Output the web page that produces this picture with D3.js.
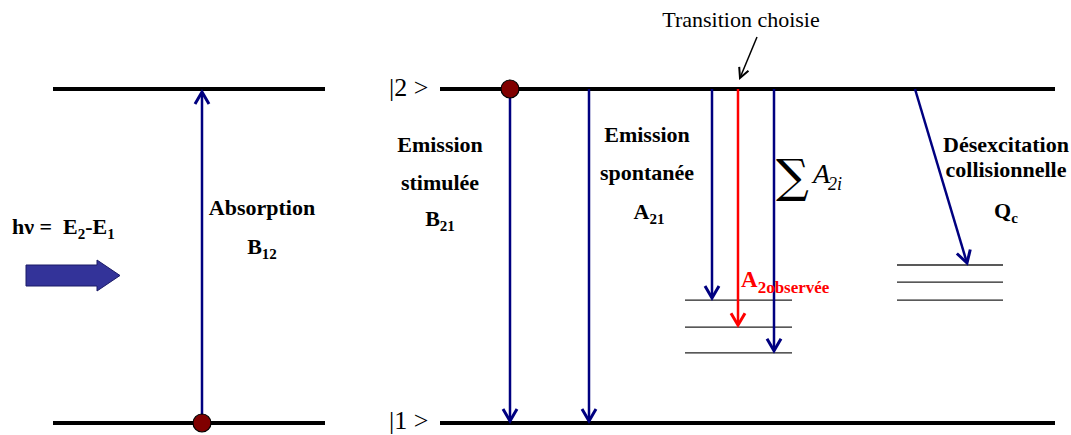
<!DOCTYPE html>
<html><head><meta charset="utf-8">
<script src="https://cdn.jsdelivr.net/npm/d3@7"></script>
<style>html,body{margin:0;padding:0;background:#fff;}svg{display:block;}</style>
</head><body><svg id="c" width="1071" height="435"></svg>
<script>
// ---- data ----
const mainLevels = [            // energy (0 = |1>, 1 = |2>)
  {name: "E1", E: 0},
  {name: "E2", E: 1}
];
const levelSpansLeft = [53, 325];
const levelSpansRight = [440, 1055];
const subLevelsA = [0.368, 0.287, 0.21];   // sub-levels reached by spontaneous decays
const subLevelsQ = [0.473, 0.422, 0.368];  // sub-levels reached by collisions
const subSpanA = [685, 792];
const subSpanQ = [897, 1003];
const transitions = [
  {x0: 202, x1: 202, E0: 0, E1: 1, color: "#000080"},         // absorption
  {x0: 510, x1: 510, E0: 1, E1: 0, color: "#000080"},         // stimulated
  {x0: 589, x1: 589, E0: 1, E1: 0, color: "#000080"},         // spontaneous
  {x0: 712, x1: 712, E0: 1, E1: 0.368, color: "#000080"},
  {x0: 738, x1: 738, E0: 1, E1: 0.287, color: "#ff0000"},
  {x0: 774, x1: 774, E0: 1, E1: 0.21, color: "#000080"},
  {x0: 915, x1: 967, E0: 1, E1: 0.473, color: "#000080"}      // collisional
];
const populations = [{x: 202, E: 0}, {x: 510, E: 1}];
const labelsBold = [
  {x: 262, y: 215, t: "Absorption"},
  {x: 440, y: 152, t: "Emission"},
  {x: 440, y: 190, t: "stimulée"},
  {x: 647, y: 142, t: "Emission"},
  {x: 647, y: 180, t: "spontanée"},
  {x: 1006, y: 152, t: "Désexcitation"},
  {x: 1006, y: 177, t: "collisionnelle"}
];
const labelsSub = [
  {x: 262, y: 254, t: "B", s: "12"},
  {x: 440, y: 226, t: "B", s: "21"},
  {x: 649, y: 219, t: "A", s: "21"},
  {x: 1006, y: 218, t: "Q", s: "c"}
];

// ---- scales ----
const svg = d3.select("#c");
const x = d3.scaleLinear().domain([0, 1071]).range([0, 1071]);
const y = d3.scaleLinear().domain([0, 1]).range([423, 89]);

const serif = "'Liberation Serif','Times New Roman',serif";

// main levels
[levelSpansLeft, levelSpansRight].forEach(span => {
  svg.append("g").selectAll("line").data(mainLevels).join("line")
    .attr("x1", x(span[0])).attr("x2", x(span[1]))
    .attr("y1", d => y(d.E)).attr("y2", d => y(d.E))
    .attr("stroke", "#000").attr("stroke-width", 4);
});
// sub-levels
[[subLevelsA, subSpanA], [subLevelsQ, subSpanQ]].forEach(([lv, span]) => {
  svg.append("g").selectAll("line").data(lv).join("line")
    .attr("x1", x(span[0])).attr("x2", x(span[1]))
    .attr("y1", d => y(d)).attr("y2", d => y(d))
    .attr("stroke", "#222").attr("stroke-width", 1.3);
});

// arrows
function arrow(g, x0, y0, x1, y1, color, w, hl, hw) {
  const dx = x1 - x0, dy = y1 - y0, L = Math.hypot(dx, dy);
  const ux = dx / L, uy = dy / L, px = -uy, py = ux;
  g.append("line").attr("x1", x0).attr("y1", y0).attr("x2", x1 - ux * 1).attr("y2", y1 - uy * 1)
    .attr("stroke", color).attr("stroke-width", w);
  const bx = x1 - ux * hl, by = y1 - uy * hl;
  g.append("path")
    .attr("d", `M${bx + px * hw},${by + py * hw}L${x1},${y1}L${bx - px * hw},${by - py * hw}`)
    .attr("fill", "none").attr("stroke", color).attr("stroke-width", w + 0.5)
    .attr("stroke-linejoin", "miter").attr("stroke-linecap", "butt");
}
const ag = svg.append("g");
transitions.forEach(t => {
  const yEnd = y(t.E1) + (t.E1 > t.E0 ? 3 : -2);
  arrow(ag, x(t.x0), y(t.E0), x(t.x1), yEnd, t.color, 2.5, 12, 7);
});
// "Transition choisie" pointer
arrow(ag, x(757), 37, x(740), 78, "#000", 1.5, 10, 5);

// population dots
svg.append("g").selectAll("circle").data(populations).join("circle")
  .attr("cx", d => x(d.x)).attr("cy", d => y(d.E)).attr("r", 9)
  .attr("fill", "#800000").attr("stroke", "#000").attr("stroke-width", 1.2);

// big arrow (photon)
svg.append("path")
  .attr("d", `M${x(26)},265 L${x(97)},265 L${x(97)},260 L${x(120)},275.5 L${x(97)},291 L${x(97)},286 L${x(26)},286 Z`)
  .attr("fill", "#333399").attr("stroke", "#1a1a66").attr("stroke-width", 1);

// texts
const tg = svg.append("g").attr("font-family", serif).attr("fill", "#000");
tg.selectAll("text.b").data(labelsBold).join("text").attr("class", "b")
  .attr("x", d => x(d.x)).attr("y", d => d.y).attr("text-anchor", "middle")
  .attr("font-weight", "bold").attr("font-size", 22).text(d => d.t);
labelsSub.forEach(d => {
  const t = tg.append("text").attr("x", x(d.x)).attr("y", d.y).attr("text-anchor", "middle")
    .attr("font-weight", "bold").attr("font-size", 22);
  t.append("tspan").text(d.t);
  t.append("tspan").attr("font-size", 15).attr("dy", 5).text(d.s);
});
// hv = E2-E1
{
  const t = tg.append("text").attr("x", 12).attr("y", 234).attr("font-weight", "bold").attr("font-size", 22);
  t.append("tspan").text("hν =");
  t.append("tspan").attr("dx", 11).text("E");
  t.append("tspan").attr("font-size", 15).attr("dy", 5).text("2");
  t.append("tspan").attr("dy", -5).text("-E");
  t.append("tspan").attr("font-size", 15).attr("dy", 5).text("1");
}
// level labels
tg.append("text").attr("x", 389).attr("y", 96).attr("font-size", 26).text("|2 >");
tg.append("text").attr("x", 389).attr("y", 429).attr("font-size", 26).text("|1 >");
// transition choisie
tg.append("text").attr("x", 741).attr("y", 27).attr("text-anchor", "middle").attr("font-size", 22).text("Transition choisie");
// Sigma A2i
tg.append("text").attr("x", 776).attr("y", 192).attr("font-family", "'DejaVu Serif',serif").attr("font-size", 46).text("∑");
{
  const t = tg.append("text").attr("x", 813).attr("y", 183).attr("font-style", "italic").attr("font-size", 28);
  t.append("tspan").text("A");
  t.append("tspan").attr("font-size", 18).attr("dx", -2).attr("dy", 7).text("2i");
}
// A2observee
{
  const t = tg.append("text").attr("x", 741).attr("y", 287).attr("font-weight", "bold").attr("font-size", 23).attr("fill", "#ff0000");
  t.append("tspan").text("A");
  t.append("tspan").attr("font-size", 17).attr("dy", 6).text("2observée");
}
</script></body></html>
